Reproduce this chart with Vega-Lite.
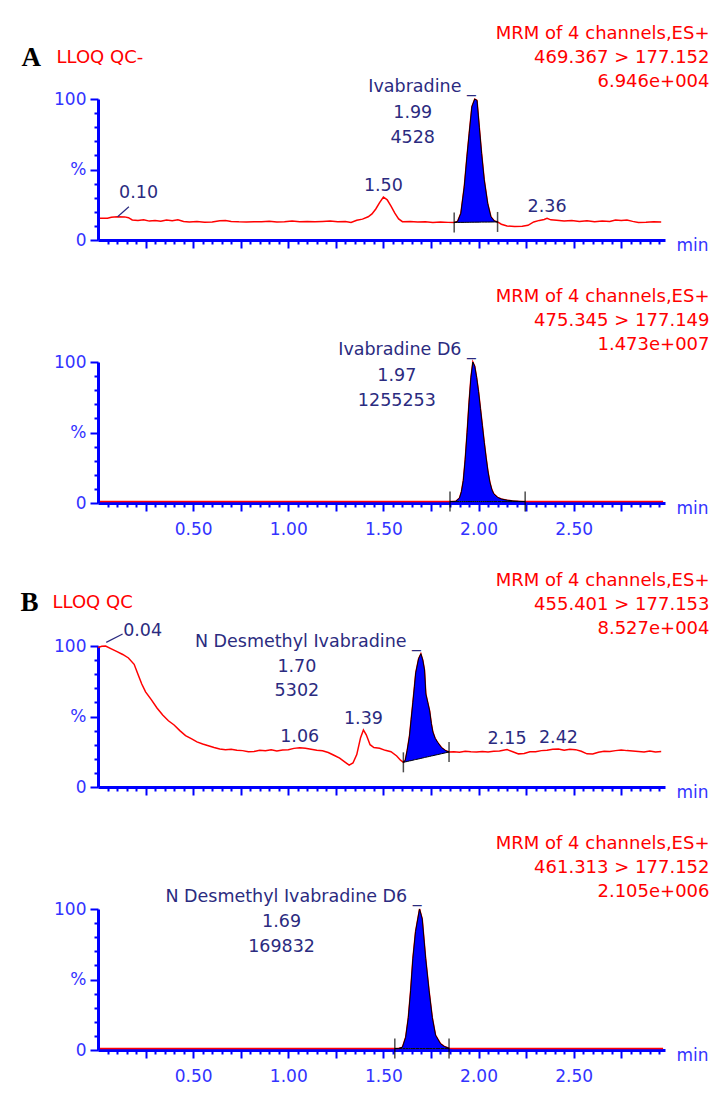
{
  "$schema": "https://vega.github.io/schema/vega-lite/v6.json",
  "background": "white",
  "padding": {"left": 20, "top": 24, "right": 0, "bottom": 0},
  "datasets": {
    "p1": [
      {"t":0.01,"v":15.4},{"t":0.05,"v":15.4},{"t":0.07,"v":16.2},{"t":0.10,"v":16.5},{"t":0.14,"v":16.4},{"t":0.16,"v":15.8},{"t":0.18,"v":14.2},{"t":0.21,"v":13.8},{"t":0.24,"v":14.4},{"t":0.27,"v":13.4},{"t":0.30,"v":13.9},{"t":0.33,"v":13.3},{"t":0.36,"v":14.2},{"t":0.39,"v":13.6},{"t":0.42,"v":14.3},{"t":0.45,"v":13.1},{"t":0.48,"v":12.7},{"t":0.52,"v":13.1},{"t":0.56,"v":12.6},{"t":0.60,"v":12.8},{"t":0.64,"v":13.6},{"t":0.67,"v":13.9},{"t":0.70,"v":13.2},{"t":0.74,"v":12.9},{"t":0.78,"v":12.8},{"t":0.82,"v":13.0},{"t":0.86,"v":12.9},{"t":0.90,"v":13.3},{"t":0.94,"v":12.8},{"t":0.98,"v":13.0},{"t":1.02,"v":13.4},{"t":1.06,"v":12.9},{"t":1.10,"v":13.2},{"t":1.14,"v":12.9},{"t":1.18,"v":13.1},{"t":1.22,"v":13.4},{"t":1.26,"v":12.9},{"t":1.30,"v":13.1},{"t":1.33,"v":12.4},{"t":1.36,"v":14.0},{"t":1.39,"v":14.8},{"t":1.42,"v":16.5},{"t":1.44,"v":18.5},{"t":1.46,"v":22},{"t":1.48,"v":26.5},{"t":1.50,"v":30.5},{"t":1.52,"v":28.5},{"t":1.54,"v":24},{"t":1.56,"v":19},{"t":1.58,"v":15},{"t":1.60,"v":13},{"t":1.64,"v":13.2},{"t":1.68,"v":12.7},{"t":1.72,"v":12.9},{"t":1.76,"v":12.5},{"t":1.80,"v":12.7},{"t":1.84,"v":12.5},
      {"t":1.872,"v":12.4,"base":12.4,"edge":true},{"t":1.89,"v":13.2,"base":12.45},{"t":1.907,"v":18.9,"base":12.5},{"t":1.925,"v":37.8,"base":12.5},{"t":1.939,"v":59,"base":12.55},{"t":1.951,"v":75.7,"base":12.55},{"t":1.965,"v":94.5,"base":12.6},{"t":1.98,"v":100,"base":12.6},{"t":1.992,"v":99,"base":12.65},{"t":2.004,"v":80,"base":12.65},{"t":2.016,"v":61.5,"base":12.7},{"t":2.03,"v":42.6,"base":12.7},{"t":2.048,"v":26,"base":12.7},{"t":2.065,"v":16.5,"base":12.75},{"t":2.083,"v":13.5,"base":12.8},{"t":2.10,"v":12.8,"base":12.8,"edge":true},
      {"t":2.12,"v":11.2},{"t":2.15,"v":9.9},{"t":2.19,"v":9.6},{"t":2.23,"v":9.7},{"t":2.26,"v":10.4},{"t":2.29,"v":12.8},{"t":2.32,"v":13.9},{"t":2.345,"v":14.6},{"t":2.36,"v":15.4},{"t":2.38,"v":14.3},{"t":2.41,"v":14.0},{"t":2.45,"v":13.5},{"t":2.49,"v":13.9},{"t":2.53,"v":13.2},{"t":2.57,"v":13.6},{"t":2.61,"v":13.0},{"t":2.65,"v":13.4},{"t":2.69,"v":13.1},{"t":2.72,"v":14.1},{"t":2.75,"v":13.9},{"t":2.78,"v":14.2},{"t":2.81,"v":13.2},{"t":2.84,"v":12.5},{"t":2.88,"v":12.6},{"t":2.92,"v":12.9},{"t":2.96,"v":12.8}
    ],
    "p1pk": [{"t":1.98,"v":100,"name":"Ivabradine _","nums":"1.99\n4528"}],
    "p1rt": [{"t":1.50,"v":30.5,"lab":"1.50"},{"t":2.36,"v":15.4,"lab":"2.36"}],
    "p1ld": [{"t":0.103,"v":16.5,"lab":"0.10"}],
    "p2": [
      {"t":0.01,"v":1.0},{"t":0.5,"v":1.0},{"t":1.0,"v":1.0},{"t":1.5,"v":1.0},
      {"t":1.85,"v":1.0,"base":1.0,"edge":true},{"t":1.88,"v":1.2,"base":1.0},{"t":1.90,"v":3.5,"base":1.0},{"t":1.91,"v":8,"base":1.0},{"t":1.92,"v":16,"base":1.0},{"t":1.93,"v":31,"base":1.0},{"t":1.94,"v":50,"base":1.0},{"t":1.95,"v":71,"base":1.0},{"t":1.96,"v":89,"base":1.0},{"t":1.97,"v":100,"base":1.0},{"t":1.98,"v":97,"base":1.0},{"t":1.99,"v":89,"base":1.0},{"t":2.00,"v":79,"base":1.0},{"t":2.01,"v":67,"base":1.0},{"t":2.02,"v":55,"base":1.0},{"t":2.03,"v":43,"base":1.0},{"t":2.04,"v":32,"base":1.0},{"t":2.05,"v":22,"base":1.0},{"t":2.06,"v":14.5,"base":1.0},{"t":2.07,"v":9.5,"base":1.0},{"t":2.08,"v":6.5,"base":1.0},{"t":2.10,"v":4,"base":1.0},{"t":2.12,"v":2.8,"base":1.0},{"t":2.15,"v":2,"base":1.0},{"t":2.18,"v":1.5,"base":1.0},{"t":2.21,"v":1.2,"base":1.0},{"t":2.245,"v":1.0,"base":1.0,"edge":true},
      {"t":2.6,"v":1.0},{"t":2.97,"v":1.0}
    ],
    "p2pk": [{"t":1.97,"v":100,"name":"Ivabradine D6 _","nums":"1.97\n1255253"}],
    "p3": [
      {"t":0.00,"v":99},{"t":0.02,"v":99.8},{"t":0.04,"v":100},{"t":0.07,"v":98},{"t":0.10,"v":96},{"t":0.13,"v":94},{"t":0.16,"v":91.5},{"t":0.19,"v":87},{"t":0.21,"v":80},{"t":0.23,"v":73},{"t":0.25,"v":67.5},{"t":0.28,"v":62},{"t":0.31,"v":56},{"t":0.34,"v":51},{"t":0.37,"v":47},{"t":0.40,"v":44},{"t":0.43,"v":40},{"t":0.46,"v":36.5},{"t":0.49,"v":34.3},{"t":0.52,"v":32},{"t":0.55,"v":30.5},{"t":0.58,"v":29.3},{"t":0.61,"v":28},{"t":0.64,"v":27},{"t":0.67,"v":26.4},{"t":0.70,"v":26.8},{"t":0.73,"v":26},{"t":0.76,"v":25.8},{"t":0.79,"v":25},{"t":0.82,"v":25.2},{"t":0.85,"v":26},{"t":0.88,"v":25.7},{"t":0.91,"v":26.4},{"t":0.94,"v":25.6},{"t":0.97,"v":26.3},{"t":1.00,"v":26.5},{"t":1.03,"v":27.4},{"t":1.06,"v":27.9},{"t":1.09,"v":27.5},{"t":1.12,"v":26.8},{"t":1.15,"v":26},{"t":1.18,"v":25.7},{"t":1.21,"v":24.5},{"t":1.24,"v":22.5},{"t":1.27,"v":20.5},{"t":1.30,"v":17.5},{"t":1.32,"v":15.5},{"t":1.34,"v":17},{"t":1.36,"v":23},{"t":1.38,"v":35},{"t":1.395,"v":40.5},{"t":1.41,"v":37},{"t":1.43,"v":30},{"t":1.45,"v":28},{"t":1.48,"v":27.5},{"t":1.51,"v":26},{"t":1.54,"v":25},{"t":1.57,"v":22},{"t":1.59,"v":19},
      {"t":1.605,"v":17.5,"base":17.5,"edge":true},{"t":1.615,"v":19,"base":17.8},{"t":1.625,"v":26,"base":18.1},{"t":1.637,"v":36,"base":18.5},{"t":1.646,"v":48,"base":18.7},{"t":1.655,"v":60,"base":19.0},{"t":1.663,"v":71,"base":19.3},{"t":1.67,"v":81,"base":19.5},{"t":1.685,"v":91,"base":19.9},{"t":1.697,"v":94.5,"base":20.3},{"t":1.707,"v":90,"base":20.6},{"t":1.716,"v":83,"base":20.9},{"t":1.723,"v":66,"base":21.1},{"t":1.733,"v":60,"base":21.4},{"t":1.743,"v":54,"base":21.7},{"t":1.752,"v":45,"base":22.0},{"t":1.76,"v":39,"base":22.2},{"t":1.772,"v":34.5,"base":22.6},{"t":1.786,"v":31.5,"base":23.0},{"t":1.805,"v":28,"base":23.6},{"t":1.828,"v":25.7,"base":24.3},{"t":1.845,"v":24.8,"base":24.8,"edge":true},
      {"t":1.87,"v":25},{"t":1.90,"v":24.7},{"t":1.93,"v":25.3},{"t":1.96,"v":25},{"t":1.99,"v":24.8},{"t":2.02,"v":25.2},{"t":2.05,"v":24.9},{"t":2.08,"v":25.3},{"t":2.11,"v":25.6},{"t":2.15,"v":26.5},{"t":2.18,"v":25},{"t":2.21,"v":23.5},{"t":2.24,"v":23.8},{"t":2.27,"v":25},{"t":2.30,"v":25},{"t":2.33,"v":25.8},{"t":2.36,"v":26},{"t":2.39,"v":26.7},{"t":2.42,"v":27},{"t":2.45,"v":26},{"t":2.48,"v":26.8},{"t":2.51,"v":26.5},{"t":2.54,"v":25.3},{"t":2.57,"v":23.5},{"t":2.60,"v":23.4},{"t":2.63,"v":24.7},{"t":2.66,"v":25.3},{"t":2.69,"v":25.2},{"t":2.72,"v":25.8},{"t":2.75,"v":26.2},{"t":2.78,"v":25.8},{"t":2.81,"v":25.5},{"t":2.84,"v":25.2},{"t":2.87,"v":24.8},{"t":2.90,"v":25.6},{"t":2.93,"v":24.8},{"t":2.96,"v":25.1}
    ],
    "p3pk": [{"t":1.697,"v":94.5,"name":"N Desmethyl Ivabradine _","nums":"1.70\n5302"}],
    "p3rt": [{"t":1.06,"v":27.9,"lab":"1.06"},{"t":1.395,"v":40.5,"lab":"1.39"},{"t":2.15,"v":26.5,"lab":"2.15"},{"t":2.42,"v":27,"lab":"2.42"}],
    "p3ld": [{"t":0.04,"v":100,"lab":"0.04"}],
    "p4": [
      {"t":0.01,"v":1.0},{"t":0.8,"v":1.0},
      {"t":1.56,"v":1.0,"base":1.0,"edge":true},{"t":1.58,"v":1.1,"base":1.0},{"t":1.60,"v":2.0,"base":1.0},{"t":1.617,"v":9,"base":1.0},{"t":1.631,"v":23,"base":1.0},{"t":1.643,"v":42,"base":1.0},{"t":1.655,"v":65,"base":1.0},{"t":1.669,"v":84,"base":1.0},{"t":1.69,"v":100,"base":1.0},{"t":1.704,"v":93,"base":1.0},{"t":1.722,"v":65,"base":1.0},{"t":1.74,"v":42,"base":1.0},{"t":1.757,"v":23,"base":1.0},{"t":1.774,"v":10.5,"base":1.0},{"t":1.80,"v":4.5,"base":1.0},{"t":1.82,"v":2.5,"base":1.0},{"t":1.845,"v":1.2,"base":1.0,"edge":true},
      {"t":1.87,"v":1.0},{"t":2.97,"v":1.0}
    ],
    "p4pk": [{"t":1.69,"v":100,"name":"N Desmethyl Ivabradine D6 _","nums":"1.69\n169832"}]
  },
  "vconcat": [
    {
      "width": 567, "height": 141,
      "encoding": {
        "x": {"field": "t", "type": "quantitative", "scale": {"domain": [0, 2.98], "nice": false, "zero": false}, "axis": null},
        "y": {"field": "v", "type": "quantitative", "scale": {"domain": [0, 100], "nice": false, "zero": false}, "axis": null}
      },
      "layer": [
        {
          "data": {"name": "p1"},
          "mark": {"type": "line", "color": "#ff0000", "strokeWidth": 1.5},
          "encoding": {
            "x": {"field": "t", "type": "quantitative", "scale": {"domain": [0, 2.98], "nice": false, "zero": false},
              "axis": {"orient": "bottom", "values": [0.05,0.1,0.15,0.2,0.25,0.3,0.35,0.4,0.45,0.5,0.55,0.6,0.65,0.7,0.75,0.8,0.85,0.9,0.95,1,1.05,1.1,1.15,1.2,1.25,1.3,1.35,1.4,1.45,1.5,1.55,1.6,1.65,1.7,1.75,1.8,1.85,1.9,1.95,2,2.05,2.1,2.15,2.2,2.25,2.3,2.35,2.4,2.45,2.5,2.55,2.6,2.65,2.7,2.75,2.8,2.85,2.9,2.95],
                "tickSize": {"condition": {"test": "datum.value*4 == round(datum.value*4)", "value": 8}, "value": 4},
                "labels": false, "title": "min", "titleX": 578, "titleY": 5, "titleAlign": "left", "titleBaseline": "middle", "titleColor": "#3333ff", "titleFontSize": 17}},
            "y": {"field": "v", "type": "quantitative", "scale": {"domain": [0, 100], "nice": false, "zero": false},
              "axis": {"orient": "left", "values": [0,10,20,30,40,50,60,70,80,90,100],
                "tickSize": {"condition": {"test": "datum.value % 50 == 0", "value": 8}, "value": 4},
                "labelExpr": "datum.value == 50 ? '%' : ((datum.value == 0 || datum.value == 100) ? datum.label : '')",
                "labelPadding": 4, "labelOverlap": false, "labelFlush": false,
                "title": "LLOQ QC-", "titleX": -42, "titleY": -42, "titleAngle": 0, "titleAlign": "left", "titleBaseline": "middle", "titleColor": "#ff0000", "titleFontSize": 18}}
          }
        },
        {
          "data": {"name": "p1"},
          "transform": [{"filter": "isValid(datum.base)"}],
          "mark": {"type": "area", "color": "#0000ff", "stroke": "#000000", "strokeWidth": 1},
          "encoding": {
            "x": {"field": "t", "type": "quantitative", "scale": {"domain": [0, 2.98], "nice": false, "zero": false},
              "axis": {"orient": "top", "domain": false, "ticks": false, "labels": false,
                "title": ["MRM of 4 channels,ES+", "469.367 > 177.152", "6.946e+004"],
                "titleX": 611, "titleY": -74.6, "titleAlign": "right", "titleBaseline": "top", "titleColor": "#ff0000", "titleFontSize": 18, "titleLineHeight": 24}},
            "y": {"field": "v", "type": "quantitative", "scale": {"domain": [0, 100], "nice": false, "zero": false},
              "axis": {"orient": "left", "domain": false, "ticks": false, "labels": false,
                "title": "A", "titleX": -77, "titleY": -42, "titleAngle": 0, "titleAlign": "left", "titleBaseline": "middle", "titleColor": "#000000", "titleFont": "Liberation Serif", "titleFontSize": 27, "titleFontWeight": "bold"}},
            "y2": {"field": "base"}
          }
        },
        {
          "data": {"name": "p1"},
          "transform": [{"filter": "datum.edge"}],
          "mark": {"type": "tick", "orient": "vertical", "color": "#000000", "size": 20, "thickness": 1.5},
          "encoding": {"y": {"field": "base", "type": "quantitative", "scale": {"domain": [0, 100], "nice": false, "zero": false}, "axis": null}}
        },
        {
          "data": {"name": "p1pk"},
          "mark": {"type": "text", "align": "right", "baseline": "alphabetic", "dx": 1, "dy": -6.6, "fontSize": 17.5, "color": "#2b2b80"},
          "encoding": {"text": {"field": "name", "type": "nominal"}}
        },
        {
          "data": {"name": "p1pk"},
          "mark": {"type": "text", "align": "center", "baseline": "top", "dx": -62, "dy": 5, "fontSize": 17.5, "lineHeight": 24.5, "lineBreak": "\n", "color": "#2b2b80"},
          "encoding": {"text": {"field": "nums", "type": "nominal"}}
        },
        {
          "data": {"name": "p1rt"},
          "mark": {"type": "text", "align": "center", "baseline": "alphabetic", "dy": -6, "fontSize": 17.5, "color": "#2b2b80"},
          "encoding": {"text": {"field": "lab", "type": "nominal"}}
        },
        {
          "data": {"name": "p1ld"},
          "mark": {"type": "text", "align": "center", "baseline": "middle", "dx": 21, "dy": -24, "fontSize": 17.5, "color": "#2b2b80"},
          "encoding": {"text": {"field": "lab", "type": "nominal"}}
        },
        {
          "data": {"name": "p1ld"},
          "mark": {"type": "point", "shape": "M0,0L0.565,-0.5", "size": 1600, "filled": false, "color": "#2b2b80", "strokeWidth": 1.2, "opacity": 1}
        }
      ],
      "resolve": {"axis": {"x": "independent", "y": "independent"}}
    },
    {
      "width": 567, "height": 141,
      "encoding": {
        "x": {"field": "t", "type": "quantitative", "scale": {"domain": [0, 2.98], "nice": false, "zero": false}, "axis": null},
        "y": {"field": "v", "type": "quantitative", "scale": {"domain": [0, 100], "nice": false, "zero": false}, "axis": null}
      },
      "layer": [
        {
          "data": {"name": "p2"},
          "mark": {"type": "line", "color": "#ff0000", "strokeWidth": 1.5},
          "encoding": {
            "x": {"field": "t", "type": "quantitative", "scale": {"domain": [0, 2.98], "nice": false, "zero": false},
              "axis": {"orient": "bottom", "values": [0.05,0.1,0.15,0.2,0.25,0.3,0.35,0.4,0.45,0.5,0.55,0.6,0.65,0.7,0.75,0.8,0.85,0.9,0.95,1,1.05,1.1,1.15,1.2,1.25,1.3,1.35,1.4,1.45,1.5,1.55,1.6,1.65,1.7,1.75,1.8,1.85,1.9,1.95,2,2.05,2.1,2.15,2.2,2.25,2.3,2.35,2.4,2.45,2.5,2.55,2.6,2.65,2.7,2.75,2.8,2.85,2.9,2.95],
                "tickSize": {"condition": {"test": "datum.value*4 == round(datum.value*4)", "value": 8}, "value": 4},
                "labelExpr": "datum.value*2 == round(datum.value*2) ? format(datum.value, '.2f') : ''",
                "labelOverlap": false, "labelFlush": false, "labelPadding": 10,
                "title": "min", "titleX": 578, "titleY": 5, "titleAlign": "left", "titleBaseline": "middle", "titleColor": "#3333ff", "titleFontSize": 17}},
            "y": {"field": "v", "type": "quantitative", "scale": {"domain": [0, 100], "nice": false, "zero": false},
              "axis": {"orient": "left", "values": [0,10,20,30,40,50,60,70,80,90,100],
                "tickSize": {"condition": {"test": "datum.value % 50 == 0", "value": 8}, "value": 4},
                "labelExpr": "datum.value == 50 ? '%' : ((datum.value == 0 || datum.value == 100) ? datum.label : '')",
                "labelPadding": 4, "labelOverlap": false, "labelFlush": false, "title": null}}
          }
        },
        {
          "data": {"name": "p2"},
          "transform": [{"filter": "isValid(datum.base)"}],
          "mark": {"type": "area", "color": "#0000ff", "stroke": "#000000", "strokeWidth": 1},
          "encoding": {
            "x": {"field": "t", "type": "quantitative", "scale": {"domain": [0, 2.98], "nice": false, "zero": false},
              "axis": {"orient": "top", "domain": false, "ticks": false, "labels": false,
                "title": ["MRM of 4 channels,ES+", "475.345 > 177.149", "1.473e+007"],
                "titleX": 611, "titleY": -74.6, "titleAlign": "right", "titleBaseline": "top", "titleColor": "#ff0000", "titleFontSize": 18, "titleLineHeight": 24}},
            "y": {"field": "v", "type": "quantitative", "scale": {"domain": [0, 100], "nice": false, "zero": false}, "axis": null},
            "y2": {"field": "base"}
          }
        },
        {
          "data": {"name": "p2"},
          "transform": [{"filter": "datum.edge"}],
          "mark": {"type": "tick", "orient": "vertical", "color": "#000000", "size": 20, "thickness": 1.5},
          "encoding": {"y": {"field": "base", "type": "quantitative", "scale": {"domain": [0, 100], "nice": false, "zero": false}, "axis": null}}
        },
        {
          "data": {"name": "p2pk"},
          "mark": {"type": "text", "align": "right", "baseline": "alphabetic", "dx": 3, "dy": -6.6, "fontSize": 17.5, "color": "#2b2b80"},
          "encoding": {"text": {"field": "name", "type": "nominal"}}
        },
        {
          "data": {"name": "p2pk"},
          "mark": {"type": "text", "align": "center", "baseline": "top", "dx": -76, "dy": 5, "fontSize": 17.5, "lineHeight": 24.5, "lineBreak": "\n", "color": "#2b2b80"},
          "encoding": {"text": {"field": "nums", "type": "nominal"}}
        }
      ],
      "resolve": {"axis": {"x": "independent", "y": "independent"}}
    },
    {
      "width": 567, "height": 141,
      "encoding": {
        "x": {"field": "t", "type": "quantitative", "scale": {"domain": [0, 2.98], "nice": false, "zero": false}, "axis": null},
        "y": {"field": "v", "type": "quantitative", "scale": {"domain": [0, 100], "nice": false, "zero": false}, "axis": null}
      },
      "layer": [
        {
          "data": {"name": "p3"},
          "mark": {"type": "line", "color": "#ff0000", "strokeWidth": 1.5},
          "encoding": {
            "x": {"field": "t", "type": "quantitative", "scale": {"domain": [0, 2.98], "nice": false, "zero": false},
              "axis": {"orient": "bottom", "values": [0.05,0.1,0.15,0.2,0.25,0.3,0.35,0.4,0.45,0.5,0.55,0.6,0.65,0.7,0.75,0.8,0.85,0.9,0.95,1,1.05,1.1,1.15,1.2,1.25,1.3,1.35,1.4,1.45,1.5,1.55,1.6,1.65,1.7,1.75,1.8,1.85,1.9,1.95,2,2.05,2.1,2.15,2.2,2.25,2.3,2.35,2.4,2.45,2.5,2.55,2.6,2.65,2.7,2.75,2.8,2.85,2.9,2.95],
                "tickSize": {"condition": {"test": "datum.value*4 == round(datum.value*4)", "value": 8}, "value": 4},
                "labels": false, "title": "min", "titleX": 578, "titleY": 5, "titleAlign": "left", "titleBaseline": "middle", "titleColor": "#3333ff", "titleFontSize": 17}},
            "y": {"field": "v", "type": "quantitative", "scale": {"domain": [0, 100], "nice": false, "zero": false},
              "axis": {"orient": "left", "values": [0,10,20,30,40,50,60,70,80,90,100],
                "tickSize": {"condition": {"test": "datum.value % 50 == 0", "value": 8}, "value": 4},
                "labelExpr": "datum.value == 50 ? '%' : ((datum.value == 0 || datum.value == 100) ? datum.label : '')",
                "labelPadding": 4, "labelOverlap": false, "labelFlush": false,
                "title": "LLOQ QC", "titleX": -46, "titleY": -44, "titleAngle": 0, "titleAlign": "left", "titleBaseline": "middle", "titleColor": "#ff0000", "titleFontSize": 18}}
          }
        },
        {
          "data": {"name": "p3"},
          "transform": [{"filter": "isValid(datum.base)"}],
          "mark": {"type": "area", "color": "#0000ff", "stroke": "#000000", "strokeWidth": 1},
          "encoding": {
            "x": {"field": "t", "type": "quantitative", "scale": {"domain": [0, 2.98], "nice": false, "zero": false},
              "axis": {"orient": "top", "domain": false, "ticks": false, "labels": false,
                "title": ["MRM of 4 channels,ES+", "455.401 > 177.153", "8.527e+004"],
                "titleX": 611, "titleY": -74.6, "titleAlign": "right", "titleBaseline": "top", "titleColor": "#ff0000", "titleFontSize": 18, "titleLineHeight": 24}},
            "y": {"field": "v", "type": "quantitative", "scale": {"domain": [0, 100], "nice": false, "zero": false},
              "axis": {"orient": "left", "domain": false, "ticks": false, "labels": false,
                "title": "B", "titleX": -78, "titleY": -44, "titleAngle": 0, "titleAlign": "left", "titleBaseline": "middle", "titleColor": "#000000", "titleFont": "Liberation Serif", "titleFontSize": 27, "titleFontWeight": "bold"}},
            "y2": {"field": "base"}
          }
        },
        {
          "data": {"name": "p3"},
          "transform": [{"filter": "datum.edge"}],
          "mark": {"type": "tick", "orient": "vertical", "color": "#000000", "size": 20, "thickness": 1.5},
          "encoding": {"y": {"field": "base", "type": "quantitative", "scale": {"domain": [0, 100], "nice": false, "zero": false}, "axis": null}}
        },
        {
          "data": {"name": "p3pk"},
          "mark": {"type": "text", "align": "right", "baseline": "alphabetic", "dx": 0, "dy": -6.6, "fontSize": 17.5, "color": "#2b2b80"},
          "encoding": {"text": {"field": "name", "type": "nominal"}}
        },
        {
          "data": {"name": "p3pk"},
          "mark": {"type": "text", "align": "center", "baseline": "top", "dx": -124, "dy": 4, "fontSize": 17.5, "lineHeight": 24.5, "lineBreak": "\n", "color": "#2b2b80"},
          "encoding": {"text": {"field": "nums", "type": "nominal"}}
        },
        {
          "data": {"name": "p3rt"},
          "mark": {"type": "text", "align": "center", "baseline": "alphabetic", "dy": -6, "fontSize": 17.5, "color": "#2b2b80"},
          "encoding": {"text": {"field": "lab", "type": "nominal"}}
        },
        {
          "data": {"name": "p3ld"},
          "mark": {"type": "text", "align": "center", "baseline": "middle", "dx": 37, "dy": -15, "fontSize": 17.5, "color": "#2b2b80"},
          "encoding": {"text": {"field": "lab", "type": "nominal"}}
        },
        {
          "data": {"name": "p3ld"},
          "mark": {"type": "point", "shape": "M0.03,-0.18L0.85,-0.6", "size": 1600, "filled": false, "color": "#2b2b80", "strokeWidth": 1.2, "opacity": 1}
        }
      ],
      "resolve": {"axis": {"x": "independent", "y": "independent"}}
    },
    {
      "width": 567, "height": 141,
      "encoding": {
        "x": {"field": "t", "type": "quantitative", "scale": {"domain": [0, 2.98], "nice": false, "zero": false}, "axis": null},
        "y": {"field": "v", "type": "quantitative", "scale": {"domain": [0, 100], "nice": false, "zero": false}, "axis": null}
      },
      "layer": [
        {
          "data": {"name": "p4"},
          "mark": {"type": "line", "color": "#ff0000", "strokeWidth": 1.5},
          "encoding": {
            "x": {"field": "t", "type": "quantitative", "scale": {"domain": [0, 2.98], "nice": false, "zero": false},
              "axis": {"orient": "bottom", "values": [0.05,0.1,0.15,0.2,0.25,0.3,0.35,0.4,0.45,0.5,0.55,0.6,0.65,0.7,0.75,0.8,0.85,0.9,0.95,1,1.05,1.1,1.15,1.2,1.25,1.3,1.35,1.4,1.45,1.5,1.55,1.6,1.65,1.7,1.75,1.8,1.85,1.9,1.95,2,2.05,2.1,2.15,2.2,2.25,2.3,2.35,2.4,2.45,2.5,2.55,2.6,2.65,2.7,2.75,2.8,2.85,2.9,2.95],
                "tickSize": {"condition": {"test": "datum.value*4 == round(datum.value*4)", "value": 8}, "value": 4},
                "labelExpr": "datum.value*2 == round(datum.value*2) ? format(datum.value, '.2f') : ''",
                "labelOverlap": false, "labelFlush": false, "labelPadding": 10,
                "title": "min", "titleX": 578, "titleY": 5, "titleAlign": "left", "titleBaseline": "middle", "titleColor": "#3333ff", "titleFontSize": 17}},
            "y": {"field": "v", "type": "quantitative", "scale": {"domain": [0, 100], "nice": false, "zero": false},
              "axis": {"orient": "left", "values": [0,10,20,30,40,50,60,70,80,90,100],
                "tickSize": {"condition": {"test": "datum.value % 50 == 0", "value": 8}, "value": 4},
                "labelExpr": "datum.value == 50 ? '%' : ((datum.value == 0 || datum.value == 100) ? datum.label : '')",
                "labelPadding": 4, "labelOverlap": false, "labelFlush": false, "title": null}}
          }
        },
        {
          "data": {"name": "p4"},
          "transform": [{"filter": "isValid(datum.base)"}],
          "mark": {"type": "area", "color": "#0000ff", "stroke": "#000000", "strokeWidth": 1},
          "encoding": {
            "x": {"field": "t", "type": "quantitative", "scale": {"domain": [0, 2.98], "nice": false, "zero": false},
              "axis": {"orient": "top", "domain": false, "ticks": false, "labels": false,
                "title": ["MRM of 4 channels,ES+", "461.313 > 177.152", "2.105e+006"],
                "titleX": 611, "titleY": -74.6, "titleAlign": "right", "titleBaseline": "top", "titleColor": "#ff0000", "titleFontSize": 18, "titleLineHeight": 24}},
            "y": {"field": "v", "type": "quantitative", "scale": {"domain": [0, 100], "nice": false, "zero": false}, "axis": null},
            "y2": {"field": "base"}
          }
        },
        {
          "data": {"name": "p4"},
          "transform": [{"filter": "datum.edge"}],
          "mark": {"type": "tick", "orient": "vertical", "color": "#000000", "size": 20, "thickness": 1.5},
          "encoding": {"y": {"field": "base", "type": "quantitative", "scale": {"domain": [0, 100], "nice": false, "zero": false}, "axis": null}}
        },
        {
          "data": {"name": "p4pk"},
          "mark": {"type": "text", "align": "right", "baseline": "alphabetic", "dx": 2, "dy": -6.6, "fontSize": 17.5, "color": "#2b2b80"},
          "encoding": {"text": {"field": "name", "type": "nominal"}}
        },
        {
          "data": {"name": "p4pk"},
          "mark": {"type": "text", "align": "center", "baseline": "top", "dx": -138, "dy": 4, "fontSize": 17.5, "lineHeight": 24.5, "lineBreak": "\n", "color": "#2b2b80"},
          "encoding": {"text": {"field": "nums", "type": "nominal"}}
        }
      ],
      "resolve": {"axis": {"x": "independent", "y": "independent"}}
    }
  ],
  "spacing": 34,
  "bounds": "full",
  "config": {
    "view": {"stroke": null},
    "font": "DejaVu Sans",
    "axis": {"domainColor": "#0000ff", "domainWidth": 3, "tickColor": "#0000ff", "tickWidth": 2, "labelColor": "#3333ff", "labelFont": "DejaVu Sans", "labelFontSize": 17, "grid": false, "titleFont": "DejaVu Sans", "titleFontWeight": "normal"},
    "text": {"font": "DejaVu Sans"}
  }
}
